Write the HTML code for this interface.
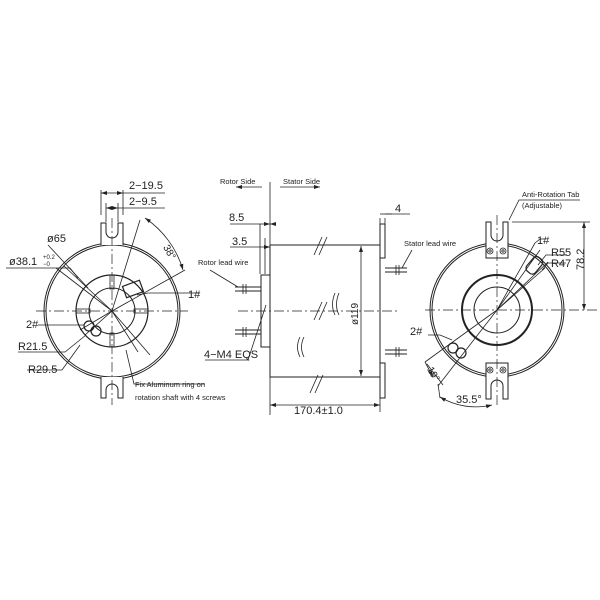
<!DOCTYPE html>
<html><head><meta charset="utf-8"><style>
html,body{margin:0;padding:0;background:#fff}
svg{display:block}
text{font-family:"Liberation Sans",sans-serif;fill:#222}
</style></head><body>
<svg width="600" height="600" viewBox="0 0 600 600" xmlns="http://www.w3.org/2000/svg">
<defs>
<marker id="a" markerWidth="6" markerHeight="6" refX="6" refY="3" orient="auto-start-reverse" markerUnits="userSpaceOnUse"><path d="M0,1 L6,3 L0,5 z" fill="#222"/></marker>
</defs>
<g stroke="#222" fill="none" stroke-width="1">
<!-- LEFT VIEW -->
<circle cx="112" cy="311" r="68"/>
<circle cx="112" cy="311" r="66"/>
<circle cx="112" cy="311" r="36" stroke-width="1.2"/>
<circle cx="112" cy="311" r="23"/>
<path d="M101,245 V223 H106 V232 A6,6 0 0 0 118,232 V223 H123 V245" fill="#fff"/>
<path d="M101,377 V398 H106 V390 A6,6 0 0 1 118,390 V398 H123 V377" fill="#fff"/>
<g stroke-width="0.7" stroke-dasharray="10,3,2,3">
<line x1="36" y1="311" x2="188" y2="311"/><line x1="112" y1="218" x2="112" y2="405"/>
</g>
<g stroke-width="0.8">
<rect x="110" y="275" width="4" height="14"/><rect x="110" y="333" width="4" height="14"/>
<rect x="76" y="309" width="14" height="4"/><rect x="134" y="309" width="14" height="4"/>
<line x1="112" y1="311" x2="140" y2="220"/><line x1="112" y1="311" x2="185" y2="270"/>
<line x1="112" y1="311" x2="56" y2="268"/><line x1="112" y1="311" x2="64" y2="266"/>
<line x1="112" y1="311" x2="80" y2="330"/><line x1="112" y1="311" x2="85" y2="335"/>
<line x1="112" y1="311" x2="150" y2="355"/><line x1="112" y1="311" x2="138" y2="352"/>
<path d="M145,218 A95,95 0 0 1 183,270" marker-start="url(#a)" marker-end="url(#a)"/>
<rect x="124" y="283" width="18" height="12" transform="rotate(-20 133 289)" stroke-width="1.2"/>
<circle cx="89" cy="326" r="5" stroke-width="1.2"/><circle cx="96" cy="331" r="5" stroke-width="1.2"/>
<path d="M137,295 L148,293 H200"/>
<path d="M84,325 H38"/>
<path d="M86,335 L65,352 H18"/>
<path d="M80,345 L62,370 H27"/>
<path d="M126,350 L134,384 H205"/>
<path d="M78,278 L70,268 H6"/><path d="M88,288 L48,245"/>
<line x1="101" y1="215" x2="101" y2="190"/><line x1="123" y1="215" x2="123" y2="190"/>
<line x1="106" y1="222" x2="106" y2="203"/><line x1="118" y1="222" x2="118" y2="203"/>
<line x1="101" y1="193" x2="123" y2="193" marker-start="url(#a)" marker-end="url(#a)"/><line x1="123" y1="193" x2="165" y2="193"/>
<line x1="106" y1="208" x2="118" y2="208" marker-start="url(#a)" marker-end="url(#a)"/><line x1="118" y1="208" x2="165" y2="208"/>
</g>
<!-- MIDDLE VIEW -->
<line x1="270" y1="182" x2="270" y2="415" stroke-width="0.8"/>
<rect x="270" y="245" width="110" height="132"/>
<rect x="261" y="275" width="9" height="72" fill="#fff"/>
<rect x="380" y="224" width="5" height="34"/><rect x="380" y="363" width="5" height="35"/>
<line x1="238" y1="311" x2="400" y2="311" stroke-width="0.7" stroke-dasharray="10,3,2,3"/>
<g stroke-width="0.8">
<path d="M314,255 L322,237 M319,255 L327,237 M310,393 L318,375 M315,393 L323,375 M314,320 L322,302 M319,320 L327,302"/>
<path d="M335,293 Q330,305 335,315 M339,293 Q334,305 339,315 M300,337 Q295,347 300,357 M304,337 Q299,347 304,357"/>
<line x1="361" y1="246" x2="361" y2="376" marker-start="url(#a)" marker-end="url(#a)"/>
<line x1="270" y1="405" x2="380" y2="405" marker-start="url(#a)" marker-end="url(#a)"/>
<line x1="380" y1="398" x2="380" y2="412"/>
<line x1="260" y1="224" x2="260" y2="274"/><line x1="265" y1="238" x2="265" y2="274"/>
<line x1="230" y1="224" x2="260" y2="224"/><line x1="260" y1="224" x2="270" y2="224" marker-end="url(#a)"/><line x1="275" y1="224" x2="270" y2="224" marker-end="url(#a)"/>
<line x1="230" y1="247" x2="265" y2="247"/><line x1="265" y1="247" x2="270" y2="247" marker-end="url(#a)"/>
<line x1="380" y1="214" x2="392" y2="214"/><line x1="385" y1="214" x2="410" y2="214"/>
<line x1="380" y1="218" x2="380" y2="224"/><line x1="385" y1="218" x2="385" y2="224"/>
<line x1="236" y1="187" x2="262" y2="187" marker-start="url(#a)"/>
<line x1="280" y1="187" x2="320" y2="187" marker-end="url(#a)"/>
<path d="M235,287 H261 M235,291 H261 M235,330 H261 M235,334 H261 M385,268 H407 M385,272 H407 M385,350 H407 M385,354 H407" stroke-width="1"/>
<path d="M243,284 V294 M246,284 V294 M243,327 V337 M246,327 V337 M396,265 V275 M399,265 V275 M396,347 V357 M399,347 V357"/>
<path d="M210,270 L238,287"/><path d="M402,268 L412,250"/>
<path d="M266,305 L248,360 H205"/>
</g>
<!-- RIGHT VIEW -->
<circle cx="497" cy="310" r="67"/>
<circle cx="497" cy="310" r="65"/>
<circle cx="497" cy="310" r="35" stroke-width="2"/>
<circle cx="497" cy="310" r="23"/>
<path d="M486,258 V222 H491 V235 A6,6 0 0 0 503,235 V222 H508 V258 Z" fill="#fff"/>
<path d="M486,363 V399 H491 V386 A6,6 0 0 1 503,386 V399 H508 V363 Z" fill="#fff"/>
<g stroke-width="0.8">
<circle cx="490" cy="251" r="3"/><circle cx="490" cy="251" r="1.2"/><circle cx="503" cy="251" r="3"/><circle cx="503" cy="251" r="1.2"/>
<circle cx="490" cy="370" r="3"/><circle cx="490" cy="370" r="1.2"/><circle cx="503" cy="370" r="3"/><circle cx="503" cy="370" r="1.2"/>
</g>
<g stroke-width="0.7" stroke-dasharray="10,3,2,3">
<line x1="425" y1="310" x2="600" y2="310"/><line x1="497" y1="215" x2="497" y2="405"/>
</g>
<g stroke-width="0.8">
<line x1="497" y1="310" x2="535" y2="243"/><line x1="497" y1="310" x2="540" y2="250"/><line x1="497" y1="310" x2="548" y2="262"/><line x1="497" y1="310" x2="545" y2="268"/>
<line x1="497" y1="310" x2="425" y2="362"/><line x1="497" y1="310" x2="438" y2="386"/>
<rect x="525" y="260" width="18" height="11" rx="4" transform="rotate(-50 534 265)" stroke-width="1.2"/>
<circle cx="453" cy="348" r="5" stroke-width="1.2"/><circle cx="461" cy="353" r="5" stroke-width="1.2"/>
<path d="M427,364 L443,385" /><path d="M438,384 L440,398"/>
<path d="M440,397 A70,70 0 0 0 492,405" marker-start="url(#a)" marker-end="url(#a)"/>
<path d="M425,362 L433,377" marker-end="url(#a)"/>
<path d="M535,243 L540,239 H546"/>
<path d="M538,265 L546,255 H566 M542,270 L548,263 H566"/>
<path d="M452,340 L440,335 H428"/>
<path d="M509,220 L519,200 H580"/>
<line x1="512" y1="222" x2="590" y2="222"/>
<line x1="584" y1="222" x2="584" y2="310" marker-start="url(#a)" marker-end="url(#a)"/>
</g>
</g>
<g font-size="11">
<text x="129" y="189">2−19.5</text>
<text x="129" y="205">2−9.5</text>
<text x="47" y="242">ø65</text>
<text x="9" y="265">ø38.1</text><text x="43" y="259" font-size="6">+0.2</text><text x="43" y="266" font-size="6">−0</text>
<text x="163" y="253" font-size="10" transform="rotate(60 168 250)">38°</text>
<text x="188" y="298">1#</text>
<text x="26" y="328">2#</text>
<text x="18" y="350">R21.5</text>
<text x="28" y="373">R29.5</text>
<text font-size="10" transform="translate(358,325) rotate(-90)">ø119</text>
<text x="229" y="221">8.5</text>
<text x="232" y="245">3.5</text>
<text x="204" y="358">4−M4 EQS</text>
<text x="294" y="414">170.4±1.0</text>
<text x="395" y="212">4</text>
<text x="551" y="256">R55</text>
<text x="551" y="267">R47</text>
<text x="537" y="244">1#</text>
<text x="410" y="335">2#</text>
<text x="456" y="403">35.5°</text>
<text x="427" y="375" font-size="10" transform="rotate(60 432 372)">19°</text>
<text font-size="11" transform="translate(584,270) rotate(-90)">78.2</text>
</g>
<g font-size="7.5">
<text x="135" y="387">Fix Aluminum ring on</text>
<text x="135" y="400">rotation shaft with 4 screws</text>
<text x="220" y="184">Rotor Side</text>
<text x="283" y="184">Stator Side</text>
<text x="198" y="265">Rotor lead wire</text>
<text x="404" y="246">Stator lead wire</text>
<text x="522" y="197">Anti-Rotation Tab</text>
<text x="522" y="208">(Adjustable)</text>
</g>
</svg>
</body></html>
